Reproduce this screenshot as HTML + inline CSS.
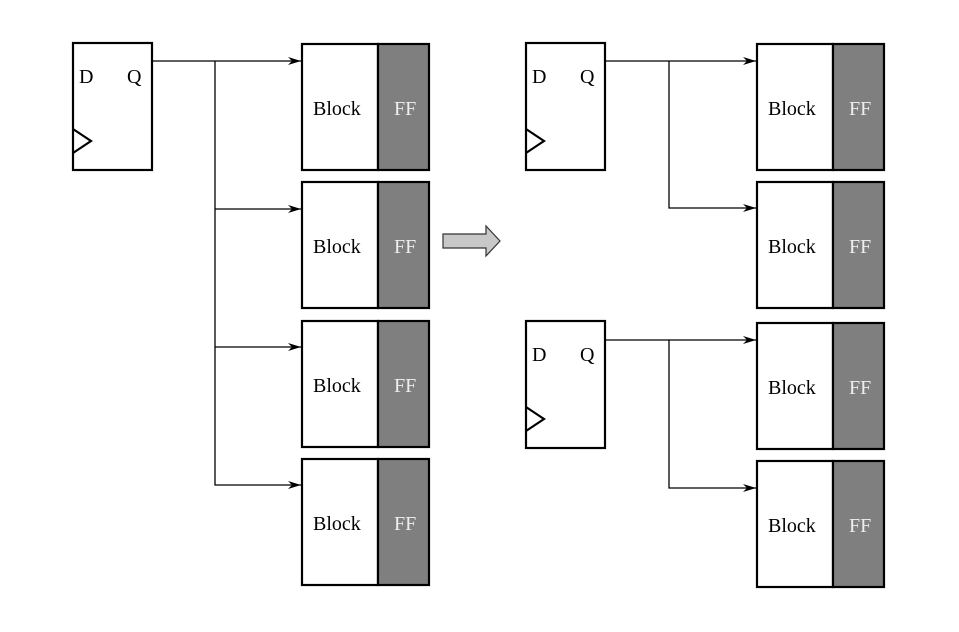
<!DOCTYPE html>
<html><head><meta charset="utf-8"><style>
html,body{margin:0;padding:0;background:#fff;}
svg{display:block;}
text{font-family:"Liberation Serif",serif;font-size:20px;}
</style></head><body>
<svg width="959" height="632" viewBox="0 0 959 632" xmlns="http://www.w3.org/2000/svg">
<defs>
<marker id="ar" markerWidth="14" markerHeight="8" refX="13" refY="4" orient="auto" markerUnits="userSpaceOnUse">
<path d="M0,0 L13,4 L0,8 L4,4 Z" fill="#000"/>
</marker>
<g id="blk">
<rect x="0" y="0" width="76" height="126" fill="#fff" stroke="#000" stroke-width="2.2"/>
<rect x="76" y="0" width="51" height="126" fill="#7f7f7f" stroke="#000" stroke-width="2.2"/>
<text x="11" y="71" fill="#000">Block</text>
<text x="92" y="71" fill="#eee">FF</text>
</g>
<g id="ff">
<rect x="0" y="0" width="79" height="127" fill="#fff" stroke="#000" stroke-width="2.2"/>
<path d="M0,86 L18,98 L0,110" fill="none" stroke="#000" stroke-width="2.2"/>
<text x="6" y="40">D</text>
<text x="54" y="40">Q</text>
</g>
</defs>
<use href="#ff" x="73" y="43"/>
<use href="#blk" x="302" y="44"/>
<use href="#blk" x="302" y="182"/>
<use href="#blk" x="302" y="321"/>
<use href="#blk" x="302" y="459"/>
<g stroke="#000" stroke-width="1.3" fill="none">
<line x1="152" y1="61" x2="301" y2="61" marker-end="url(#ar)"/>
<polyline points="215,61 215,485 301,485" marker-end="url(#ar)"/>
<line x1="215" y1="209" x2="301" y2="209" marker-end="url(#ar)"/>
<line x1="215" y1="347" x2="301" y2="347" marker-end="url(#ar)"/>
</g>
<path d="M443,234 L486,234 L486,226 L500,241 L486,256 L486,248 L443,248 Z" fill="#c8c8c8" stroke="#333" stroke-width="1.2"/>
<use href="#ff" x="526" y="43"/>
<use href="#ff" x="526" y="321"/>
<use href="#blk" x="757" y="44"/>
<use href="#blk" x="757" y="182"/>
<use href="#blk" x="757" y="323"/>
<use href="#blk" x="757" y="461"/>
<g stroke="#000" stroke-width="1.3" fill="none">
<line x1="605" y1="61" x2="756" y2="61" marker-end="url(#ar)"/>
<polyline points="669,61 669,208 756,208" marker-end="url(#ar)"/>
<line x1="605" y1="340" x2="756" y2="340" marker-end="url(#ar)"/>
<polyline points="669,340 669,488 756,488" marker-end="url(#ar)"/>
</g>
</svg>
</body></html>
